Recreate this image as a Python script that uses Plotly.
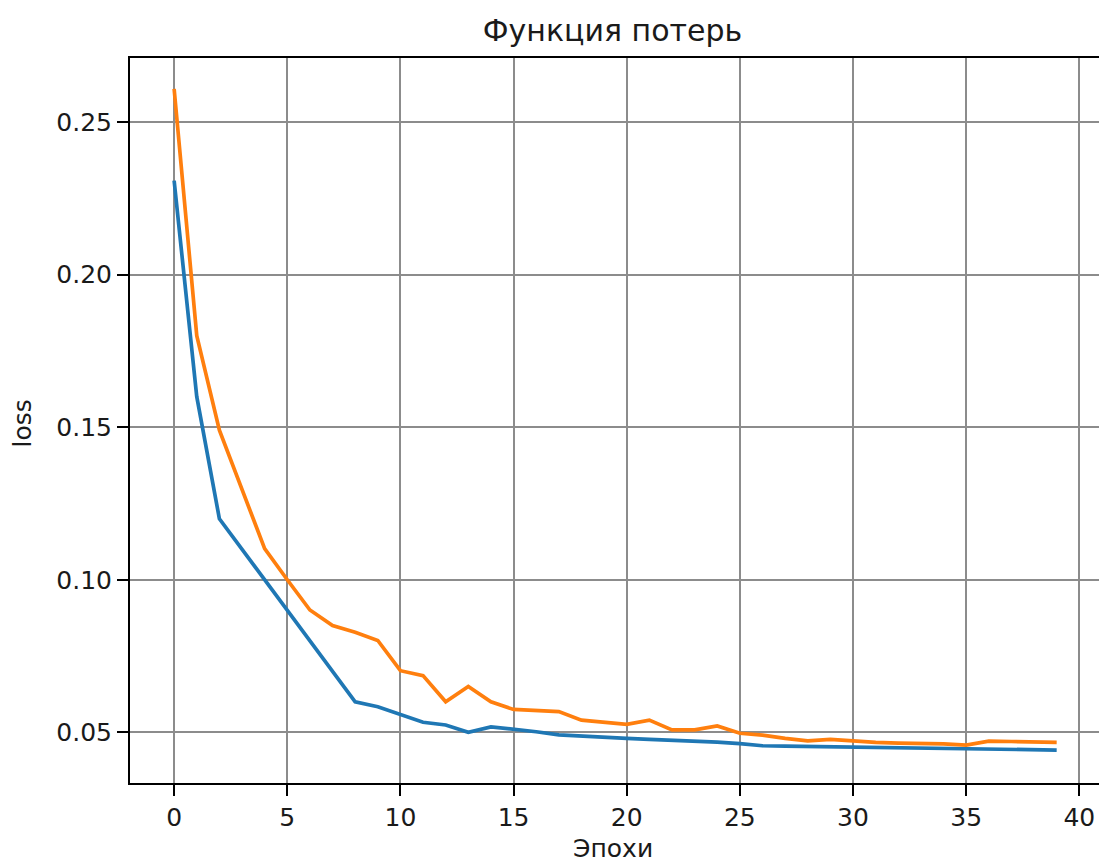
import plotly.graph_objects as go

epochs = list(range(40))
loss_blue = [0.2308, 0.160, 0.120, 0.110, 0.100, 0.0896, 0.080, 0.070, 0.060, 0.0584,
             0.0557, 0.0533, 0.0524, 0.0500, 0.0518, 0.0511, 0.0502, 0.0492, 0.0487, 0.0484,
             0.0480, 0.0477, 0.0475, 0.0472, 0.0468, 0.0463, 0.0456, 0.0455, 0.0454, 0.0453,
             0.0452, 0.0451, 0.0450, 0.0449, 0.0448, 0.0447, 0.0446, 0.0445, 0.0444, 0.0442]
loss_orange = [0.2609, 0.180, 0.149, 0.130, 0.1102, 0.100, 0.0901, 0.0850, 0.0828, 0.0801,
               0.0702, 0.0686, 0.0600, 0.0650, 0.0600, 0.0575, 0.0573, 0.0568, 0.0540, 0.0532,
               0.0526, 0.0540, 0.0508, 0.0508, 0.0521, 0.0497, 0.0491, 0.0480, 0.0472, 0.0477,
               0.0471, 0.0467, 0.0465, 0.0464, 0.0462, 0.0458, 0.0471, 0.0470, 0.0469, 0.0467]
x_ticks = [0, 5, 10, 15, 20, 25, 30, 35, 40]
y_ticks = [0.05, 0.10, 0.15, 0.20, 0.25]
y_tick_labels = ["0.05", "0.10", "0.15", "0.20", "0.25"]

FONT = "DejaVu Sans"
TXT = "#1a1a1a"

fig = go.Figure()
fig.add_trace(go.Scatter(x=epochs, y=loss_blue, mode="lines",
                         line=dict(color="#1f77b4", width=3.7), showlegend=False))
fig.add_trace(go.Scatter(x=epochs, y=loss_orange, mode="lines",
                         line=dict(color="#ff7f0e", width=3.7), showlegend=False))

axis_common = dict(
    showline=True, linecolor="black", linewidth=2,
    ticks="outside", ticklen=11, tickwidth=2, tickcolor="black",
    showgrid=True, gridcolor="#8c8c8c", gridwidth=2,
    zeroline=False,
    tickfont=dict(family=FONT, size=25, color=TXT),
)

fig.update_layout(
    width=1099, height=863,
    margin=dict(l=130, r=0, t=58, b=80),
    paper_bgcolor="white", plot_bgcolor="white",
    title=dict(text="Функция потерь", x=612.5 / 1099, xanchor="center", xref="container",
               y=1 - 30 / 863, yanchor="middle", yref="container",
               font=dict(family=FONT, size=30, color=TXT)),
    xaxis=dict(range=[-1.95, 40.87], tickvals=x_ticks, mirror=True, **axis_common),
    yaxis=dict(range=[0.0334, 0.271], tickvals=y_ticks, ticktext=y_tick_labels,
               mirror=False, **axis_common),
    annotations=[
        dict(text="Эпохи", xref="x", yref="paper", x=19.4, y=0, yshift=-65,
             xanchor="center", yanchor="middle", showarrow=False,
             font=dict(family=FONT, size=25, color=TXT)),
        dict(text="loss", xref="paper", yref="paper", x=0, xshift=-108, y=0.5, yshift=-3,
             xanchor="center", yanchor="middle", textangle=-90, showarrow=False,
             font=dict(family=FONT, size=25, color=TXT)),
    ],
)

fig.write_html("out.html")
